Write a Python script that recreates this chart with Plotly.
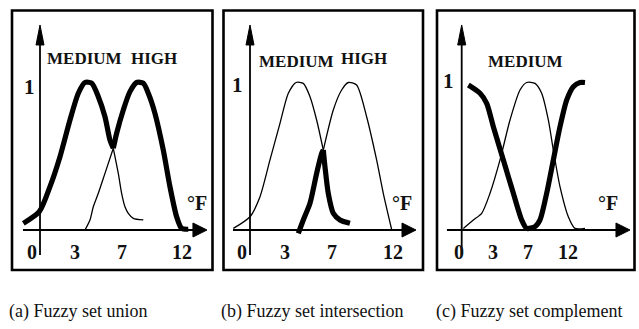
import plotly.graph_objects as go

# ---------------- data (membership curves) ----------------
# Panel (a) union
a_medium_T = [-1.40, -0.06, 0.84, 1.68, 2.52, 3.22, 3.78, 4.34, 4.90, 5.46, 5.88, 6.16]
a_medium_mu = [0.045, 0.124, 0.294, 0.497, 0.746, 0.927, 1.0, 0.995, 0.904, 0.768, 0.61, 0.554]
a_medtail_T = [6.16, 6.58, 6.86, 7.14, 7.42, 7.84, 8.68]
a_medtail_mu = [0.554, 0.384, 0.249, 0.158, 0.113, 0.079, 0.068]
a_highstart_T = [3.78, 4.20, 4.48, 4.90, 5.46, 6.16]
a_highstart_mu = [0.0, 0.068, 0.158, 0.249, 0.384, 0.554]
a_high_T = [6.16, 6.44, 7.00, 7.56, 8.12, 8.68, 9.10, 9.66, 10.36, 10.92, 11.48, 11.90, 12.46]
a_high_mu = [0.554, 0.656, 0.814, 0.938, 1.0, 0.995, 0.927, 0.791, 0.542, 0.294, 0.09, 0.011, 0.005]

# Panel (b) intersection
b_medium_T = [-1.40, 0.0, 0.84, 1.68, 2.52, 3.22, 3.87, 4.48, 5.04, 5.60, 6.16]
b_medium_mu = [0.011, 0.09, 0.226, 0.475, 0.723, 0.927, 1.0, 0.994, 0.904, 0.746, 0.542]
b_high_T = [6.16, 7.00, 7.70, 8.26, 8.96, 9.80, 10.64, 11.20, 11.90]
b_high_mu = [0.542, 0.814, 0.949, 1.0, 0.983, 0.768, 0.475, 0.249, 0.005]
b_inter_T = [4.06, 4.48, 5.04, 5.60, 6.02, 6.16, 6.30, 6.58, 7.00, 7.56, 8.40]
b_inter_mu = [-0.023, 0.068, 0.181, 0.384, 0.52, 0.542, 0.429, 0.247, 0.113, 0.068, 0.045]

# Panel (c) complement
c_medium_T = [0.14, 0.98, 1.68, 2.38, 3.22, 4.06, 4.90, 5.46, 6.16, 6.72, 7.28, 7.70, 8.26, 8.96, 9.52, 10.36]
c_medium_mu = [0.011, 0.068, 0.113, 0.249, 0.475, 0.746, 0.949, 1.0, 0.994, 0.927, 0.746, 0.542, 0.294, 0.09, 0.011, 0.011]
c_compl_T = [0.56, 1.54, 2.10, 2.66, 3.50, 4.34, 5.04, 5.46, 6.16, 6.58, 7.14, 7.70, 8.26, 8.82, 9.38, 9.94, 10.36]
c_compl_mu = [0.983, 0.927, 0.859, 0.70, 0.475, 0.249, 0.068, 0.011, 0.023, 0.068, 0.249, 0.475, 0.70, 0.881, 0.972, 1.0, 1.0]

# tick labels (text, position along the temperature axis) per panel
tick_text = ["0", "3", "7", "12"]
a_tick_pos = [-0.67, 2.94, 6.89, 11.93]
b_tick_pos = [-0.67, 2.94, 6.89, 12.02]
c_tick_pos = [-0.23, 2.63, 5.57, 8.93]

captions = ["(a) Fuzzy set union", "(b) Fuzzy set intersection", "(c) Fuzzy set complement"]

# ---------------- layout constants ----------------
W, H = 639, 329
PX_T, PX_MU = 11.9, 147.5          # pixels per unit
FONT = "Liberation Serif"
INK = "#111111"

panels = [
    dict(frame=(12, 10.5, 212.5, 270), origin=(40, 230), xax=(-1.43, 14.03), yax=(-0.17, 1.39)),
    dict(frame=(223.5, 10.5, 423, 270), origin=(250, 230), xax=(-1.43, 13.95), yax=(-0.17, 1.39)),
    dict(frame=(437, 10.5, 634.5, 270), origin=(461.7, 230), xax=(-1.24, 14.14), yax=(-0.17, 1.39)),
]

fig = go.Figure()
shapes, annotations = [], []


def add_line(i, xs, ys, width):
    ax = "" if i == 0 else str(i + 1)
    fig.add_trace(go.Scatter(x=xs, y=ys, mode="lines", xaxis="x" + ax, yaxis="y" + ax,
                             line=dict(color="black", width=width, shape="spline", smoothing=0.7),
                             hoverinfo="skip", showlegend=False))


THIN, THICK = 1.3, 5.2
add_line(0, a_medtail_T, a_medtail_mu, THIN)
add_line(0, a_highstart_T, a_highstart_mu, THIN)
add_line(0, a_medium_T, a_medium_mu, THICK)
add_line(0, a_high_T, a_high_mu, THICK)

add_line(1, b_medium_T, b_medium_mu, THIN)
add_line(1, b_high_T, b_high_mu, THIN)
k = b_inter_mu.index(max(b_inter_mu))       # sharp peak: draw both flanks separately
add_line(1, b_inter_T[:k + 1], b_inter_mu[:k + 1], THICK)
add_line(1, b_inter_T[k:], b_inter_mu[k:], THICK)

add_line(2, c_medium_T, c_medium_mu, THIN)
add_line(2, c_compl_T, c_compl_mu, THICK)

layout_axes = {}
for i, p in enumerate(panels):
    fx0, fy0, fx1, fy1 = p["frame"]
    ox, oy = p["origin"]
    ax = "" if i == 0 else str(i + 1)
    xr = [(fx0 - ox) / PX_T, (fx1 - ox) / PX_T]
    yr = [(oy - fy1) / PX_MU, (oy - fy0) / PX_MU]
    layout_axes["xaxis" + ax] = dict(domain=[fx0 / W, fx1 / W], range=xr, visible=False,
                                     anchor="y" + ax, fixedrange=True)
    layout_axes["yaxis" + ax] = dict(domain=[(H - fy1) / H, (H - fy0) / H], range=yr, visible=False,
                                     anchor="x" + ax, fixedrange=True)
    xref, yref = "x" + ax, "y" + ax
    # frame
    shapes.append(dict(type="rect", xref=xref + " domain", yref=yref + " domain", x0=0, x1=1, y0=0, y1=1,
                       line=dict(color="black", width=2.6), layer="above"))
    # axes lines
    xa0, xa1 = p["xax"]
    ya0, ya1 = p["yax"]
    shapes.append(dict(type="line", xref=xref, yref=yref, x0=xa0, x1=xa1 - 8 / PX_T, y0=0, y1=0,
                       line=dict(color="black", width=1.8)))
    shapes.append(dict(type="line", xref=xref, yref=yref, x0=0, x1=0, y0=ya0, y1=ya1 - 10 / PX_MU,
                       line=dict(color="black", width=1.8)))
    # arrow heads (sizes in pixels converted through the panel scale)
    L, hw = 14 / PX_T, 7 / PX_MU
    shapes.append(dict(type="path", xref=xref, yref=yref,
                       path=f"M{xa1},0 L{xa1 - L},{hw} L{xa1 - L},{-hw} Z",
                       fillcolor="black", line=dict(color="black", width=1)))
    Ly, hwy = 20 / PX_MU, 4 / PX_T
    shapes.append(dict(type="path", xref=xref, yref=yref,
                       path=f"M0,{ya1} L{hwy},{ya1 - Ly} L{-hwy},{ya1 - Ly} Z",
                       fillcolor="black", line=dict(color="black", width=1)))


def label(i, x, y, text, size, bold=True):
    ax = "" if i == 0 else str(i + 1)
    t = f"<b>{text}</b>" if bold else text
    annotations.append(dict(xref="x" + ax, yref="y" + ax, x=x, y=y, text=t, showarrow=False,
                            font=dict(family=FONT, size=size, color=INK),
                            xanchor="center", yanchor="middle"))


for i, pos in enumerate([a_tick_pos, b_tick_pos, c_tick_pos]):
    for t, x in zip(tick_text, pos):
        label(i, x, -0.15, t, 20)

label(0, -0.92, 0.97, "1", 21)
label(1, -1.01, 0.98, "1", 21)
label(2, -1.15, 1.01, "1", 21)
label(0, 13.19, 0.18, "°F", 20)
label(1, 12.77, 0.18, "°F", 20)
label(2, 12.29, 0.18, "°F", 20)
label(0, 3.70, 1.165, "MEDIUM", 17)
label(0, 9.58, 1.165, "HIGH", 17)
label(1, 3.87, 1.14, "MEDIUM", 17)
label(1, 9.58, 1.16, "HIGH", 17)
label(2, 5.32, 1.145, "MEDIUM", 17)

for cx, txt in zip([78, 312, 529], captions):
    annotations.append(dict(xref="paper", yref="paper", x=cx / W, y=(H - 311) / H, text=txt,
                            showarrow=False, font=dict(family=FONT, size=18, color=INK),
                            xanchor="center", yanchor="middle"))

fig.update_layout(width=W, height=H, margin=dict(l=0, r=0, t=0, b=0),
                  paper_bgcolor="white", plot_bgcolor="white",
                  shapes=shapes, annotations=annotations, showlegend=False, **layout_axes)

fig.write_html("out.html", include_plotlyjs=True, config={"displayModeBar": False})
